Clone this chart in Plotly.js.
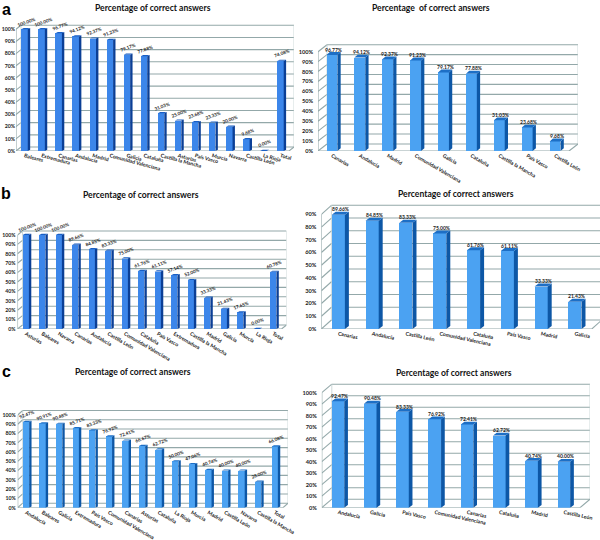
<!DOCTYPE html>
<html><head><meta charset="utf-8">
<script src="https://cdn.plot.ly/plotly-3.0.1.min.js"></script>
<style>html,body{margin:0;padding:0;background:#fff}#c{width:600px;height:540px}</style>
</head><body><div id="c"></div>
<script>
const titleText = "Percentage of correct answers";
const titleTextWide = "Percentage  of correct answers";
const yTicks100 = [0,10,20,30,40,50,60,70,80,90,100];
const yTicks90 = [0,10,20,30,40,50,60,70,80,90];

const catsAL = ["Baleares","Extremadura","Canarias","Andalucía","Madrid","Comunidad Valenciana","Galicia","Cataluña","Castilla la Mancha","Asturias","País Vasco","Murcia","Navarra","Castilla León","La Rioja","Total"];
const valsAL = [100,100,96.77,94.12,92.37,91.23,79.17,77.88,31.03,25,23.68,23.33,20,9.68,0,74.08];
const catsAR = ["Canarias","Andalucía","Madrid","Comunidad Valenciana","Galicia","Cataluña","Castilla la Mancha","País Vasco","Castilla León"];
const valsAR = [96.77,94.12,92.37,91.23,79.17,77.88,31.03,23.68,9.68];
const catsBL = ["Asturias","Baleares","Navarra","Canarias","Andalucía","Castilla León","Comunidad Valenciana","Cataluña","País Vasco","Extremadura","Castilla la Mancha","Madrid","Galicia","Murcia","La Rioja","Total"];
const valsBL = [100,100,100,89.66,84.85,83.33,75,61.76,61.11,57.14,52,33.33,21.43,17.65,0,60.78];
const catsBR = ["Canarias","Andalucía","Castilla León","Comunidad Valenciana","Cataluña","País Vasco","Madrid","Galicia"];
const valsBR = [89.66,84.85,83.33,75,61.76,61.11,33.33,21.43];
const catsCL = ["Andalucía","Baleares","Galicia","Extremadura","País Vasco","Comunidad Valenciana","Canarias","Asturias","Cataluña","La Rioja","Murcia","Madrid","Castilla León","Navarra","Castilla la Mancha","Total"];
const valsCL = [92.47,90.91,90.48,85.71,83.33,76.92,72.41,66.67,62.72,50,47.06,40.74,40,40,28,66.08];
const catsCR = ["Andalucía","Galicia","País Vasco","Comunidad Valenciana","Canarias","Cataluña","Madrid","Castilla León"];
const valsCR = [92.47,90.48,83.33,76.92,72.41,62.72,40.74,40];

const W=600,H=540;
const deep={front:"#3c86ea",side:"#0b3f96",top:"#1a5fc4"};
const light={front:"#4ba2f2",side:"#0d57a6",top:"#1d6fc6"};
const panels=[
 {cats:catsAL,vals:valsAL,ticks:yTicks100,l:16,r:289,y0:151,yT:29.3,wx:5,wy:4,bw:.38,sx:2.4,sy:1.2,col:deep,ang:15,lab:-20,lo:6.5,so:0,title:titleText,tx:153,ty:8},
 {cats:catsAR,vals:valsAR,ticks:yTicks100,l:318,r:569,y0:151,yT:51.7,wx:9,wy:7,bw:.39,sx:3.3,sy:2.8,col:light,ang:30,lab:0,lo:2.5,so:4,title:titleTextWide,tx:431,ty:8},
 {cats:catsBL,vals:valsBL,ticks:yTicks100,l:17.5,r:281.5,y0:329,yT:235,wx:5,wy:4,bw:.38,sx:2.4,sy:1.2,col:deep,ang:30,lab:-20,lo:6.5,so:1,title:titleText,tx:140.5,ty:195},
 {cats:catsBR,vals:valsBR,ticks:yTicks90,l:321.4,r:591.8,y0:329,yT:214.3,wx:10,wy:9,bw:.39,sx:4,sy:3,col:light,ang:12,lab:0,lo:2.5,so:4,title:titleText,tx:456,ty:194},
 {cats:catsCL,vals:valsCL,ticks:yTicks100,l:17.7,r:283,y0:507.7,yT:415,wx:5,wy:4.5,bw:.38,sx:2.4,sy:1.2,col:light,ang:30,lab:-20,lo:6.5,so:1,title:titleText,tx:132.5,ty:372},
 {cats:catsCR,vals:valsCR,ticks:yTicks100,l:321.8,r:580,y0:507.7,yT:392.7,wx:10,wy:8.5,bw:.39,sx:3.7,sy:2.8,col:light,ang:12,lab:0,lo:2.5,so:4,title:titleText,tx:454.5,ty:373}
];
const letters=[["a",6,9],["b",6,193],["c",6,371]];
const traces=[],shapes=[],annotations=[];
const layout={width:W,height:H,margin:{l:0,r:0,t:0,b:0},paper_bgcolor:"#fff",plot_bgcolor:"rgba(0,0,0,0)",showlegend:false,bargap:0,hovermode:false};
const fam="Lato, 'Open Sans', sans-serif";
const gridCol="#93a8a9";
const pad=14;
panels.forEach((p,k)=>{
  const n=p.cats.length, sfx=k===0?"":String(k+1);
  const topV=p.ticks[p.ticks.length-1];
  const pxX=(p.r-p.l)/n, pxY=(p.y0-p.yT)/topV;
  const dX=p.wx/pxX, dY=p.wy/pxY, sX=p.sx/pxX, sY=p.sy/pxY;
  const right=Math.min(p.r+p.wx,W);
  const xmax=-0.5+(right-p.l)/pxX, ymax=topV+dY+pad/pxY;
  layout["xaxis"+sfx]={domain:[p.l/W,right/W],range:[-0.5,xmax],anchor:"y"+sfx,showgrid:false,zeroline:false,showline:false,
    tickmode:"array",tickvals:p.cats.map((_,i)=>i),ticktext:p.cats,tickangle:p.ang,ticks:"",ticklen:0,
    tickfont:{family:fam,size:5.2,color:"#222",weight:"bold"},automargin:false};
  layout["yaxis"+sfx]={domain:[1-p.y0/H,1-(p.yT-p.wy-pad)/H],range:[0,ymax],anchor:"x"+sfx,showgrid:false,zeroline:false,showline:false,
    tickmode:"array",tickvals:p.ticks,ticktext:p.ticks.map(v=>v+"%"),ticks:"",ticklen:0,ticklabelstandoff:p.so,
    tickfont:{family:fam,size:p.so<2?5.2:5.6,color:"#222",weight:"bold"},automargin:false};
  const xr="x"+sfx,yr="y"+sfx;
  const ln=(x0,y0,x1,y1,w,c)=>shapes.push({type:"line",layer:"below",xref:xr,yref:yr,x0,y0,x1,y1,line:{color:c||gridCol,width:w||1.1}});
  p.ticks.forEach(v=>{
    ln(-0.5,v,-0.5+dX,v+dY);
    ln(-0.5+dX,v+dY,n-0.5+dX,v+dY);
  });
  ln(-0.5,0,-0.5,topV);
  ln(-0.5+dX,dY,-0.5+dX,topV+dY,.8,"#c3d0d1");
  ln(n-0.5+dX,dY,n-0.5+dX,topV+dY,.8,"#c3d0d1");
  ln(-0.5,0,n-0.5,0);
  ln(n-0.5,0,n-0.5+dX,dY);
  traces.push({type:"bar",x:p.cats.map((_,i)=>i),y:p.vals,width:p.bw,xaxis:xr,yaxis:yr,marker:{color:p.col.front,line:{width:0}},hoverinfo:"skip",cliponaxis:false});
  const sideX=[],sideY=[],topX=[],topY=[];
  p.vals.forEach((v,i)=>{
    const a=i-p.bw/2,b=i+p.bw/2;
    sideX.push(b,b+sX,b+sX,b,b,null); sideY.push(0,sY,v+sY,v,0,null);
    topX.push(a,b,b+sX,a+sX,a,null); topY.push(v,v,v+sY,v+sY,v,null);
    annotations.push({xref:xr,yref:yr,x:i+sX/2,y:v+sY+p.lo/pxY,text:v.toFixed(2)+"%",showarrow:false,xanchor:"center",yanchor:"middle",
      textangle:p.lab,font:{family:fam,size:p.lab?4.6:5,color:"#222",weight:"bold"},borderpad:0});
  });
  traces.push({type:"scatter",mode:"none",x:sideX,y:sideY,fill:"toself",fillcolor:p.col.side,xaxis:xr,yaxis:yr,hoverinfo:"skip"});
  traces.push({type:"scatter",mode:"none",x:topX,y:topY,fill:"toself",fillcolor:p.col.top,xaxis:xr,yaxis:yr,hoverinfo:"skip"});
  annotations.push({xref:"paper",yref:"paper",x:p.tx/W,y:1-p.ty/H,text:p.title,showarrow:false,xanchor:"center",yanchor:"middle",
    font:{family:fam,size:8.6,color:"#111",weight:"bold"}});
});
letters.forEach(([t,x,y])=>annotations.push({xref:"paper",yref:"paper",x:x/W,y:1-y/H,text:t,showarrow:false,xanchor:"center",yanchor:"middle",
  font:{family:"Liberation Sans, Arial, sans-serif",size:16,color:"#000",weight:"bold"}}));
layout.shapes=shapes;layout.annotations=annotations;
Plotly.newPlot("c",traces,layout,{displayModeBar:false,staticPlot:true});
</script></body></html>
